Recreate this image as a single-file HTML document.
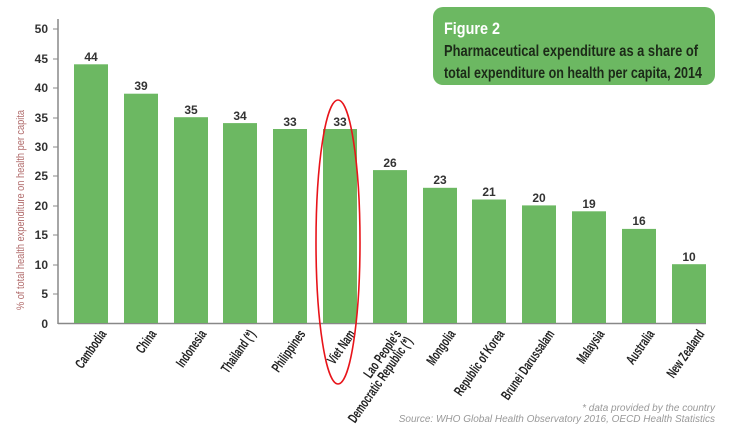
<!DOCTYPE html>
<html><head><meta charset="utf-8"><style>
html,body{margin:0;padding:0;background:#fff;overflow:hidden;}
svg{display:block;}
text{font-family:"Liberation Sans",sans-serif;}
</style></head><body>
<svg width="740" height="437" viewBox="0 0 740 437" xmlns="http://www.w3.org/2000/svg">
<rect width="740" height="437" fill="#fff"/>
<rect x="433" y="7" width="282" height="78" rx="10" fill="#6cb862"/>
<text x="444" y="34" font-size="17" fill="#fff" font-weight="bold" textLength="56" lengthAdjust="spacingAndGlyphs">Figure 2</text>
<text x="444" y="56" font-size="15.5" fill="#1c2a18" font-weight="bold" textLength="254" lengthAdjust="spacingAndGlyphs">Pharmaceutical expenditure as a share of</text>
<text x="444" y="78" font-size="15.5" fill="#1c2a18" font-weight="bold" textLength="258" lengthAdjust="spacingAndGlyphs">total expenditure on health per capita, 2014</text>
<line x1="58" y1="19" x2="58" y2="324" stroke="#888" stroke-width="1.5"/>
<line x1="58" y1="323.5" x2="706" y2="323.5" stroke="#888" stroke-width="1.5"/>
<g stroke="#888" stroke-width="1">
<line x1="53" y1="29" x2="58" y2="29"/><line x1="53" y1="59" x2="58" y2="59"/><line x1="53" y1="88" x2="58" y2="88"/><line x1="53" y1="118" x2="58" y2="118"/><line x1="53" y1="147" x2="58" y2="147"/><line x1="53" y1="176" x2="58" y2="176"/><line x1="53" y1="206" x2="58" y2="206"/><line x1="53" y1="235" x2="58" y2="235"/><line x1="53" y1="265" x2="58" y2="265"/><line x1="53" y1="294" x2="58" y2="294"/>
</g>
<g font-size="12" fill="#333" font-weight="bold" text-anchor="end">
<text x="48" y="33">50</text><text x="48" y="63">45</text><text x="48" y="92">40</text><text x="48" y="122">35</text><text x="48" y="151">30</text><text x="48" y="180">25</text><text x="48" y="210">20</text><text x="48" y="239">15</text><text x="48" y="269">10</text><text x="48" y="298">5</text><text x="48" y="328">0</text>
</g>
<text transform="translate(24,210) rotate(-90)" font-size="11" fill="#b06a6a" text-anchor="middle" textLength="200" lengthAdjust="spacingAndGlyphs">% of total health expenditure on health per capita</text>
<g fill="#6cb862">
<rect x="74" y="64.3" width="34" height="258.7"/>
<rect x="124" y="93.7" width="34" height="229.3"/>
<rect x="174" y="117.2" width="34" height="205.8"/>
<rect x="223" y="123.1" width="34" height="199.9"/>
<rect x="273" y="129" width="34" height="194"/>
<rect x="323" y="129" width="34" height="194"/>
<rect x="373" y="170.1" width="34" height="152.9"/>
<rect x="423" y="187.8" width="34" height="135.2"/>
<rect x="472" y="199.5" width="34" height="123.5"/>
<rect x="522" y="205.4" width="34" height="117.6"/>
<rect x="572" y="211.3" width="34" height="111.7"/>
<rect x="622" y="228.9" width="34" height="94.1"/>
<rect x="672" y="264.2" width="34" height="58.8"/>
</g>
<g font-size="12" fill="#333" font-weight="bold" text-anchor="middle">
<text x="91" y="61">44</text><text x="141" y="90">39</text><text x="191" y="114">35</text><text x="240" y="120">34</text><text x="290" y="126">33</text><text x="340" y="126">33</text><text x="390" y="167">26</text><text x="440" y="184">23</text><text x="489" y="196">21</text><text x="539" y="202">20</text><text x="589" y="208">19</text><text x="639" y="225">16</text><text x="689" y="261">10</text>
</g>
<g font-size="14" fill="#222" font-weight="bold" text-anchor="end">
<text transform="translate(107,334) rotate(-55) scale(0.64,1)">Cambodia</text>
<text transform="translate(157,334) rotate(-55) scale(0.64,1)">China</text>
<text transform="translate(207,334) rotate(-55) scale(0.64,1)">Indonesia</text>
<text transform="translate(256,334) rotate(-55) scale(0.64,1)">Thailand (*)</text>
<text transform="translate(306,334) rotate(-55) scale(0.64,1)">Philippines</text>
<text transform="translate(356,334) rotate(-55) scale(0.64,1)">Viet Nam</text>
<text transform="translate(402,334) rotate(-55) scale(0.64,1)">Lao People's</text>
<text transform="translate(413,341) rotate(-55) scale(0.64,1)">Democratic Republic (*)</text>
<text transform="translate(456,334) rotate(-55) scale(0.64,1)">Mongolia</text>
<text transform="translate(505,334) rotate(-55) scale(0.64,1)">Republic of Korea</text>
<text transform="translate(555,334) rotate(-55) scale(0.64,1)">Brunei Darussalam</text>
<text transform="translate(605,334) rotate(-55) scale(0.64,1)">Malaysia</text>
<text transform="translate(655,334) rotate(-55) scale(0.64,1)">Australia</text>
<text transform="translate(705,334) rotate(-55) scale(0.64,1)">New Zealand</text>
</g>
<ellipse cx="338" cy="242" rx="22" ry="142" fill="none" stroke="#e8141a" stroke-width="1.6"/>
<g font-size="10" fill="#999" font-style="italic" text-anchor="end">
<text x="715" y="411">* data provided by the country</text>
<text x="715" y="422">Source: WHO Global Health Observatory 2016, OECD Health Statistics</text>
</g>
</svg>
</body></html>
